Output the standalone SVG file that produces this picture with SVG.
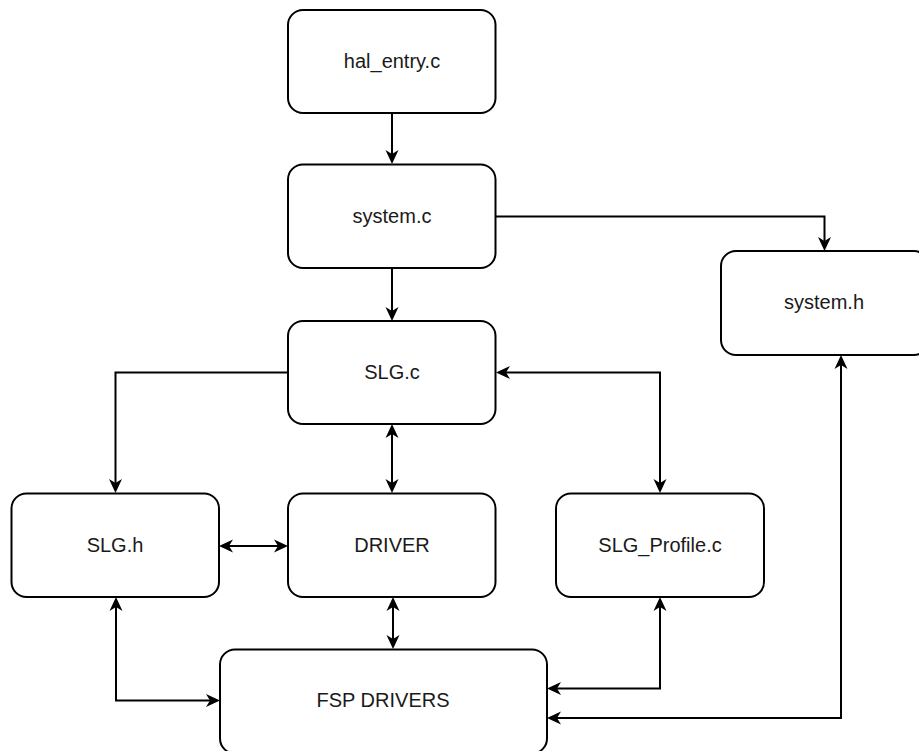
<svg xmlns="http://www.w3.org/2000/svg" width="919" height="751" viewBox="0 0 919 751">
<style>
.box{fill:#fff;stroke:#000;stroke-width:2}
.lbl{font-family:"Liberation Sans",Arial,sans-serif;font-size:20px;fill:#1a1a1a;text-anchor:middle;dominant-baseline:central}
.c{fill:none;stroke:#000;stroke-width:2}
</style>
<defs>
<marker id="ah" markerUnits="userSpaceOnUse" viewBox="0 0 16 14" markerWidth="16" markerHeight="14" refX="9" refY="7" orient="auto-start-reverse">
<path d="M15,7 L1,0.5 L5,7 L1,13.5 Z" fill="#000"/>
</marker>
</defs>
<rect width="919" height="751" fill="#fff"/>
<g id="connectors">
<path class="c" d="M392,113 V158" marker-end="url(#ah)"/>
<path class="c" d="M496,216.5 H824.5 V245" marker-end="url(#ah)"/>
<path class="c" d="M392,268 V315" marker-end="url(#ah)"/>
<path class="c" d="M288,372.5 H115.5 V487" marker-end="url(#ah)"/>
<path class="c" d="M502,372.5 H660 V487" marker-start="url(#ah)" marker-end="url(#ah)"/>
<path class="c" d="M392,430 V487" marker-start="url(#ah)" marker-end="url(#ah)"/>
<path class="c" d="M225,546 H282" marker-start="url(#ah)" marker-end="url(#ah)"/>
<path class="c" d="M116,603 V700.5 H214" marker-start="url(#ah)" marker-end="url(#ah)"/>
<path class="c" d="M393,603 V643" marker-start="url(#ah)" marker-end="url(#ah)"/>
<path class="c" d="M660,603 V688.5 H553" marker-start="url(#ah)" marker-end="url(#ah)"/>
<path class="c" d="M841,361 V718 H553" marker-start="url(#ah)" marker-end="url(#ah)"/>
</g>
<g id="hal_entry"><rect class="box" x="288" y="10" width="207.5" height="103" rx="15"/><text class="lbl" x="392" y="61">hal_entry.c</text></g>
<g id="system_c"><rect class="box" x="288" y="164.5" width="207.5" height="103.5" rx="15"/><text class="lbl" x="392" y="216">system.c</text></g>
<g id="system_h"><rect class="box" x="721" y="251" width="208" height="104" rx="15"/><text class="lbl" x="824" y="302">system.h</text></g>
<g id="SLG_c"><rect class="box" x="288" y="321" width="207.5" height="103" rx="15"/><text class="lbl" x="392" y="372">SLG.c</text></g>
<g id="SLG_h"><rect class="box" x="11.5" y="493.5" width="207.5" height="103.5" rx="15"/><text class="lbl" x="115" y="545">SLG.h</text></g>
<g id="DRIVER"><rect class="box" x="288" y="493.5" width="207.5" height="103.5" rx="15"/><text class="lbl" x="392" y="545">DRIVER</text></g>
<g id="SLG_Profile"><rect class="box" x="556" y="493.5" width="208" height="103.5" rx="15"/><text class="lbl" x="660" y="545">SLG_Profile.c</text></g>
<g id="FSP_DRIVERS"><rect class="box" x="220" y="649.5" width="327" height="104" rx="15"/><text class="lbl" x="383" y="700">FSP DRIVERS</text></g>
</svg>
